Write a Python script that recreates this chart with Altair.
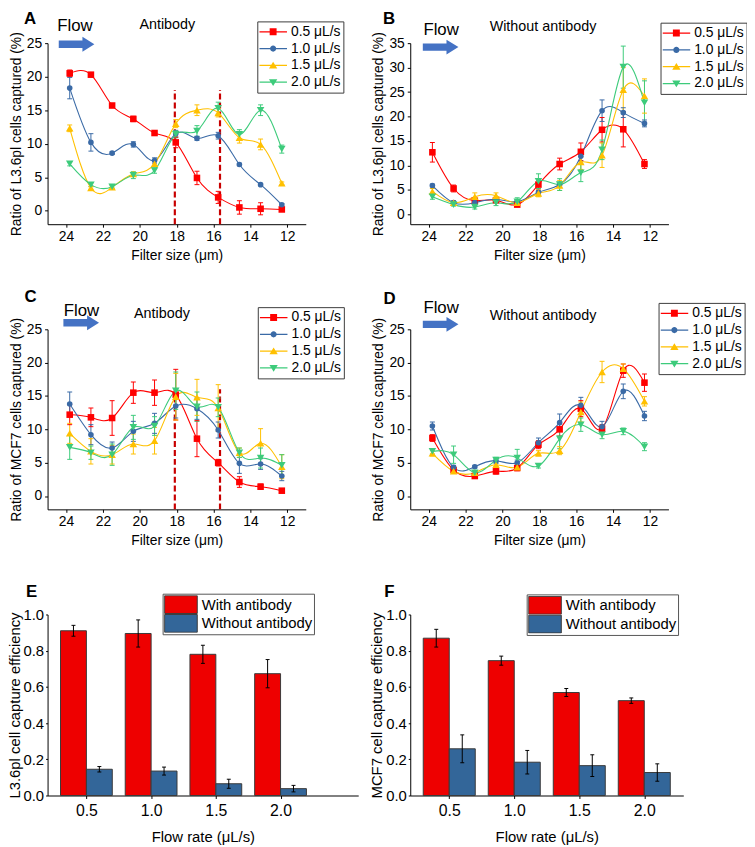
import altair as alt
import pandas as pd

FONT = "Liberation Sans"

# ---------------- data ----------------
FILTER_SIZE = [23.8, 22.65, 21.5, 20.35, 19.2, 18.05, 16.9, 15.75, 14.6, 13.45, 12.3]
FILTER_TICKS = [24, 22, 20, 18, 16, 14, 12]
SERIES = ["0.5 μL/s", "1.0 μL/s", "1.5 μL/s", "2.0 μL/s"]
SERIES_COLORS = ["#FF0000", "#3A6AA6", "#FFC000", "#3DCB7B"]

# Panel A: L3.6pl, antibody
A_05 = [20.5, 20.3, 15.7, 13.7, 11.6, 10.2, 4.9, 2.0, 0.5, 0.3, 0.2]
A_05_ERR = [0.5, 0.2, 0.2, 0.4, 0.3, 0.8, 1.0, 0.9, 1.0, 0.9, 0.2]
A_10 = [18.3, 10.2, 8.6, 9.9, 7.5, 11.5, 10.8, 11.2, 6.9, 3.9, 0.9]
A_10_ERR = [1.6, 1.3, 0.2, 0.4, 0.4, 0.5, 0.3, 0.5, 0.2, 0.2, 0.2]
A_15 = [12.3, 3.4, 3.5, 5.5, 7.0, 13.0, 15.0, 14.6, 10.9, 9.9, 4.1]
A_15_ERR = [0.5, 0.2, 0.2, 0.3, 0.4, 0.6, 0.8, 0.6, 0.8, 0.8, 0.2]
A_20 = [7.0, 3.9, 3.6, 5.3, 6.0, 11.4, 11.9, 15.3, 11.4, 15.0, 9.2]
A_20_ERR = [0.3, 0.3, 0.2, 0.5, 0.4, 0.5, 0.8, 0.9, 0.7, 0.8, 0.6]

# Panel B: L3.6pl, without antibody
B_05 = [12.7, 5.3, 2.8, 2.9, 2.0, 6.1, 10.3, 12.8, 17.3, 17.4, 10.3]
B_05_ERR = [2.0, 0.7, 0.4, 0.3, 0.3, 0.9, 1.2, 1.8, 2.5, 3.6, 0.9]
B_10 = [5.9, 2.4, 2.4, 3.1, 2.6, 4.5, 6.1, 11.9, 21.2, 20.8, 18.6]
B_10_ERR = [0.3, 0.4, 0.3, 0.3, 0.3, 0.4, 0.5, 1.0, 2.2, 1.0, 0.7]
B_15 = [4.7, 2.4, 3.6, 3.8, 2.4, 4.3, 5.9, 10.7, 12.1, 25.5, 24.2]
B_15_ERR = [0.6, 0.3, 0.8, 0.6, 0.4, 0.7, 1.0, 1.5, 2.5, 4.5, 3.5]
B_20 = [3.6, 2.0, 1.5, 2.4, 2.6, 6.8, 6.1, 8.5, 13.2, 30.1, 22.8]
B_20_ERR = [0.5, 0.3, 0.4, 0.6, 0.8, 1.5, 1.2, 1.8, 2.0, 4.3, 4.5]

# Panel C: MCF7, antibody
C_05 = [12.2, 11.8, 11.7, 15.5, 15.5, 15.2, 8.6, 5.0, 2.1, 1.4, 0.8]
C_05_ERR = [1.5, 1.4, 2.6, 1.6, 1.9, 3.8, 2.7, 0.5, 0.8, 0.4, 0.2]
C_10 = [13.8, 9.2, 7.2, 9.7, 10.9, 13.5, 13.1, 9.9, 4.9, 4.8, 3.0]
C_10_ERR = [1.8, 1.5, 0.9, 1.5, 1.5, 1.8, 1.6, 1.2, 1.5, 0.8, 0.7]
C_15 = [9.4, 6.7, 6.2, 7.8, 8.3, 14.9, 14.8, 13.2, 6.5, 7.9, 4.4]
C_15_ERR = [1.5, 1.9, 1.4, 1.5, 2.0, 3.5, 2.7, 3.5, 0.7, 2.2, 1.8]
C_20 = [7.3, 6.5, 6.2, 10.3, 10.5, 15.8, 13.4, 13.3, 6.5, 5.7, 4.6]
C_20_ERR = [1.8, 1.0, 1.6, 1.8, 1.4, 2.8, 2.2, 1.4, 0.7, 1.5, 1.6]

# Panel D: MCF7, without antibody
D_05 = [8.7, 3.9, 3.0, 3.7, 4.2, 7.7, 10.0, 13.1, 10.1, 18.8, 17.0]
D_05_ERR = [0.5, 0.3, 0.2, 0.4, 0.4, 0.6, 1.0, 1.2, 0.6, 1.0, 1.3]
D_10 = [10.5, 4.3, 4.4, 5.3, 5.0, 8.0, 11.0, 13.6, 10.4, 15.7, 12.0]
D_10_ERR = [0.6, 0.3, 0.2, 0.4, 0.4, 0.7, 1.3, 1.2, 0.8, 1.1, 0.7]
D_15 = [6.4, 3.7, 3.5, 4.7, 4.3, 6.4, 6.8, 12.6, 18.6, 19.1, 14.2]
D_15_ERR = [0.4, 0.3, 0.3, 0.4, 0.3, 0.4, 0.6, 1.5, 1.6, 0.7, 0.7]
D_20 = [6.7, 6.2, 3.5, 5.4, 5.7, 4.5, 8.6, 10.7, 9.2, 9.7, 7.4]
D_20_ERR = [0.4, 1.3, 0.3, 0.4, 1.3, 0.3, 1.5, 1.0, 0.6, 0.5, 0.6]

BOUNDARY_SIZES = [18.1, 15.65]
A_BOUNDARY_TOP = 18
C_BOUNDARY_TOP = 16

# Panels E / F: capture efficiency
FLOW_RATES = [0.5, 1.0, 1.5, 2.0]
BAR_GROUPS = ["With antibody", "Without antibody"]
BAR_COLORS = ["#EE0000", "#336699"]
E_WITH = [0.91, 0.895, 0.78, 0.673]
E_WITH_ERR = [0.03, 0.075, 0.05, 0.078]
E_WITHOUT = [0.145, 0.135, 0.065, 0.038]
E_WITHOUT_ERR = [0.015, 0.022, 0.025, 0.018]
F_WITH = [0.869, 0.745, 0.569, 0.524]
F_WITH_ERR = [0.049, 0.025, 0.022, 0.015]
F_WITHOUT = [0.258, 0.184, 0.165, 0.127]
F_WITHOUT_ERR = [0.077, 0.065, 0.06, 0.048]

# ---------------- styling ----------------
COLOR_SCALE = alt.Scale(domain=SERIES, range=SERIES_COLORS)
MARKER_SHAPES = ["square", "circle", "triangle-up", "triangle-down"]
MARKER_SIZES = [44, 32, 58, 58]
LINE_SEG = "M-1,-0.045L1,-0.045L1,0.045L-1,0.045Z"
LEGEND_PATHS = [
    LINE_SEG + "M-0.25,-0.25L0.25,-0.25L0.25,0.25L-0.25,0.25Z",
    LINE_SEG + "M0.22,0A0.22,0.22 0 1,1 -0.22,0A0.22,0.22 0 1,1 0.22,0Z",
    LINE_SEG + "M0,-0.27L0.3,0.22L-0.3,0.22Z",
    LINE_SEG + "M-0.3,-0.22L0.3,-0.22L0,0.27Z",
]
ARROW_PATH = "M-1,-0.21L0.33,-0.21L0.33,-0.42L1,0L0.33,0.42L0.33,0.21L-1,0.21Z"
RECT_PATH = "M-1,-0.545L1,-0.545L1,0.545L-1,0.545Z"


def series_frame(means, errs):
    rows = []
    for name, m_list, e_list in zip(SERIES, means, errs):
        for size, m, e in zip(FILTER_SIZE, m_list, e_list):
            rows.append({"size": size, "value": m, "lo": m - e, "hi": m + e, "series": name})
    return pd.DataFrame(rows)


def bar_frame(with_vals, with_err, without_vals, without_err):
    rows = []
    for grp, vals, errs in zip(BAR_GROUPS, [with_vals, without_vals], [with_err, without_err]):
        for f, v, e in zip(FLOW_RATES, vals, errs):
            rows.append({"flow": f, "group": grp, "value": v, "lo": v - e, "hi": v + e})
    return pd.DataFrame(rows)


def text_mark(text, x, y, size, weight="normal"):
    return alt.Chart(pd.DataFrame({"t": [text]})).mark_text(
        font=FONT, fontSize=size, fontWeight=weight, color="black",
        align="center", baseline="middle"
    ).encode(text="t:N", x=alt.value(x), y=alt.value(y))


def arrow_mark(x, y):
    return alt.Chart(pd.DataFrame({"t": [0]})).mark_point(
        shape=ARROW_PATH, size=1296, filled=True, color="#4472C4", opacity=1, strokeWidth=0
    ).encode(x=alt.value(x), y=alt.value(y))


def line_panel(means, errs, ymax, ytitle, caption, letter, spots, height, boundary_top=None):
    df = series_frame(means, errs)
    xs = alt.Scale(domain=[11, 25], reverse=True, nice=False, zero=False)
    ys = alt.Scale(domain=[-2, ymax], nice=False, zero=False)
    xaxis = alt.Axis(values=FILTER_TICKS, title="Filter size (μm)", labelFontSize=14,
                     titleFontSize=14, tickSize=3, labelPadding=2, titlePadding=6,
                     labelFlush=False)
    yaxis = alt.Axis(values=list(range(0, ymax + 1, 5)), title=ytitle, labelFontSize=14,
                     titleFontSize=14, tickSize=3, labelPadding=3, titlePadding=3)

    def X(f):
        return alt.X(f, scale=xs, axis=xaxis)

    def Y(f):
        return alt.Y(f, scale=ys, axis=yaxis)

    color = alt.Color("series:N", scale=COLOR_SCALE, legend=None)
    lx, ly = spots["legend"]
    legend = alt.Legend(title=None, orient="none", legendX=lx, legendY=ly, direction="vertical",
                        strokeColor="#3c3c3c", fillColor="white", padding=2,
                        labelFont=FONT, labelFontSize=14, labelColor="black",
                        symbolSize=784, symbolStrokeWidth=0, symbolFillColor="black",
                        clipHeight=17, rowPadding=0, labelOffset=4, labelLimit=200)
    base = alt.Chart(df)
    layers = [
        base.mark_point(filled=True, size=0, opacity=1).encode(
            x=X("size:Q"), y=Y("value:Q"),
            color=alt.Color("series:N", scale=COLOR_SCALE, legend=legend),
            shape=alt.Shape("series:N", scale=alt.Scale(domain=SERIES, range=LEGEND_PATHS),
                            legend=legend),
        )
    ]
    if boundary_top is not None:
        bdf = pd.DataFrame({"size": BOUNDARY_SIZES,
                            "y0": [-2] * len(BOUNDARY_SIZES),
                            "y1": [boundary_top] * len(BOUNDARY_SIZES)})
        layers.append(alt.Chart(bdf).mark_rule(color="#C80000", strokeWidth=2.2,
                                               strokeDash=[6, 3]).encode(
            x=X("size:Q"), y=Y("y0:Q"), y2="y1:Q"))
    layers.append(base.mark_rule(strokeWidth=1).encode(
        x=X("size:Q"), y=Y("lo:Q"), y2="hi:Q", color=color))
    for f in ["lo:Q", "hi:Q"]:
        layers.append(base.mark_tick(orient="horizontal", size=5, thickness=1, opacity=1).encode(
            x=X("size:Q"), y=Y(f), color=color))
    layers.append(base.mark_line(interpolate="natural", strokeWidth=1.1).encode(
        x=X("size:Q"), y=Y("value:Q"), color=color))
    for s, shp, sz in zip(SERIES, MARKER_SHAPES, MARKER_SIZES):
        layers.append(base.transform_filter(alt.datum.series == s).mark_point(
            shape=shp, size=sz, filled=True, opacity=1, strokeWidth=0).encode(
            x=X("size:Q"), y=Y("value:Q"), color=color))
    layers.append(text_mark(letter, *spots["letter"], 17, "bold"))
    layers.append(text_mark("Flow", *spots["flow"], 17))
    layers.append(arrow_mark(*spots["arrow"]))
    layers.append(text_mark(caption, *spots["caption"], 14.5))
    return alt.layer(*layers).properties(width=261, height=height)


def bar_panel(with_vals, with_err, without_vals, without_err, xmax, width, ytitle, letter, spots):
    df = bar_frame(with_vals, with_err, without_vals, without_err)
    xs = alt.Scale(domain=[0.2, xmax], nice=False, zero=False)
    ys = alt.Scale(domain=[0, 1], nice=False)
    xaxis = alt.Axis(values=FLOW_RATES, format=".1f", title="Flow rate (μL/s)", labelFontSize=16,
                     titleFontSize=15, tickSize=3, labelPadding=4, titlePadding=11,
                     labelFlush=False)
    yaxis = alt.Axis(values=[0, 0.2, 0.4, 0.6, 0.8, 1.0], format=".1f", title=ytitle,
                     labelFontSize=15, titleFontSize=15, tickSize=2, labelPadding=2,
                     titlePadding=1)

    def X(f):
        return alt.X(f, scale=xs, axis=xaxis)

    def Y(f):
        return alt.Y(f, scale=ys, axis=yaxis)

    lx, ly = spots["legend"]
    legend = alt.Legend(title=None, orient="none", legendX=lx, legendY=ly, direction="vertical",
                        strokeColor="#555555", fillColor="white", padding=1.5,
                        labelFont=FONT, labelFontSize=15, labelColor="black",
                        symbolType=RECT_PATH, symbolSize=1089, symbolStrokeColor="#3a3a3a",
                        symbolStrokeWidth=1, clipHeight=19, rowPadding=0, labelOffset=4,
                        labelLimit=250)
    base = alt.Chart(df).transform_calculate(
        x0="datum.group == 'With antibody' ? datum.flow - 0.2 : datum.flow",
        x1="datum.group == 'With antibody' ? datum.flow : datum.flow + 0.2",
    ).transform_calculate(xm="(datum.x0 + datum.x1) / 2", zero="0")
    bars = base.mark_rect(stroke="#3a3a3a", strokeWidth=1).encode(
        x=X("x0:Q"), x2="x1:Q", y=Y("value:Q"), y2="zero:Q",
        color=alt.Color("group:N", scale=alt.Scale(domain=BAR_GROUPS, range=BAR_COLORS),
                        legend=legend))
    rules = base.mark_rule(color="black", strokeWidth=1).encode(
        x=X("xm:Q"), y=Y("lo:Q"), y2="hi:Q")
    caps = [base.mark_tick(orient="horizontal", size=4, thickness=1, color="black",
                           opacity=1).encode(x=X("xm:Q"), y=Y(f)) for f in ["lo:Q", "hi:Q"]]
    return alt.layer(bars, rules, *caps, text_mark(letter, *spots["letter"], 17, "bold")
                     ).properties(width=width, height=183)


panel_a = line_panel([A_05, A_10, A_15, A_20], [A_05_ERR, A_10_ERR, A_15_ERR, A_20_ERR], 25,
                     "Ratio of L3.6pl cells captured (%)", "Antibody", "A",
                     {"letter": (-17.7, -24), "flow": (27.7, -17.5), "arrow": (29.3, 1),
                      "caption": (121, -18.5), "legend": (212, -22)}, 183, A_BOUNDARY_TOP)
panel_b = line_panel([B_05, B_10, B_15, B_20], [B_05_ERR, B_10_ERR, B_15_ERR, B_20_ERR], 35,
                     "Ratio of L3.6pl cells captured (%)", "Without antibody", "B",
                     {"letter": (-21.3, -24), "flow": (31.2, -13.5), "arrow": (30.7, 4),
                      "caption": (134.2, -16), "legend": (253, -20.7)}, 183)
panel_c = line_panel([C_05, C_10, C_15, C_20], [C_05_ERR, C_10_ERR, C_15_ERR, C_20_ERR], 25,
                     "Ratio of MCF7 cells captured (%)", "Antibody", "C",
                     {"letter": (-17.2, -32.7), "flow": (34.3, -18.7), "arrow": (34, -6.7),
                      "caption": (115.6, -15.7), "legend": (212.5, -22.4)}, 182, C_BOUNDARY_TOP)
panel_d = line_panel([D_05, D_10, D_15, D_20], [D_05_ERR, D_10_ERR, D_15_ERR, D_20_ERR], 25,
                     "Ratio of MCF7 cells captured (%)", "Without antibody", "D",
                     {"letter": (-20.8, -30.7), "flow": (31.2, -21.7), "arrow": (30.7, -5),
                      "caption": (134.2, -13.7), "legend": (251, -26.7)}, 182)
panel_e = bar_panel(E_WITH, E_WITH_ERR, E_WITHOUT, E_WITHOUT_ERR, 2.6, 314,
                    "L3.6pl cell capture efficiency", "E",
                    {"letter": (-16.2, -22.7), "legend": (116.3, -21)})
panel_f = bar_panel(F_WITH, F_WITH_ERR, F_WITHOUT, F_WITHOUT_ERR, 2.3, 276,
                    "MCF7 cell capture efficiency", "F",
                    {"letter": (-21, -23), "legend": (117.7, -20.3)})

chart = alt.concat(
    panel_a, panel_b, panel_c, panel_d, panel_e, panel_f,
    columns=2, spacing={"row": 106.25, "column": 52.6}, bounds="flush",
).resolve_scale(color="independent", shape="independent").properties(
    autosize=alt.AutoSizeParams(type="none"),
    padding={"left": 40, "top": 31, "right": 707, "bottom": 808},
).configure(font=FONT).configure_view(stroke=None).configure_axis(
    domainColor="black", tickColor="black", labelColor="black", titleColor="black",
    labelFont=FONT, titleFont=FONT, titleFontWeight="normal", grid=False,
    domainWidth=1, tickWidth=1,
).configure_legend(labelFont=FONT, labelColor="black")

chart.save("out.html", embed_options={"renderer": "svg", "actions": False})
